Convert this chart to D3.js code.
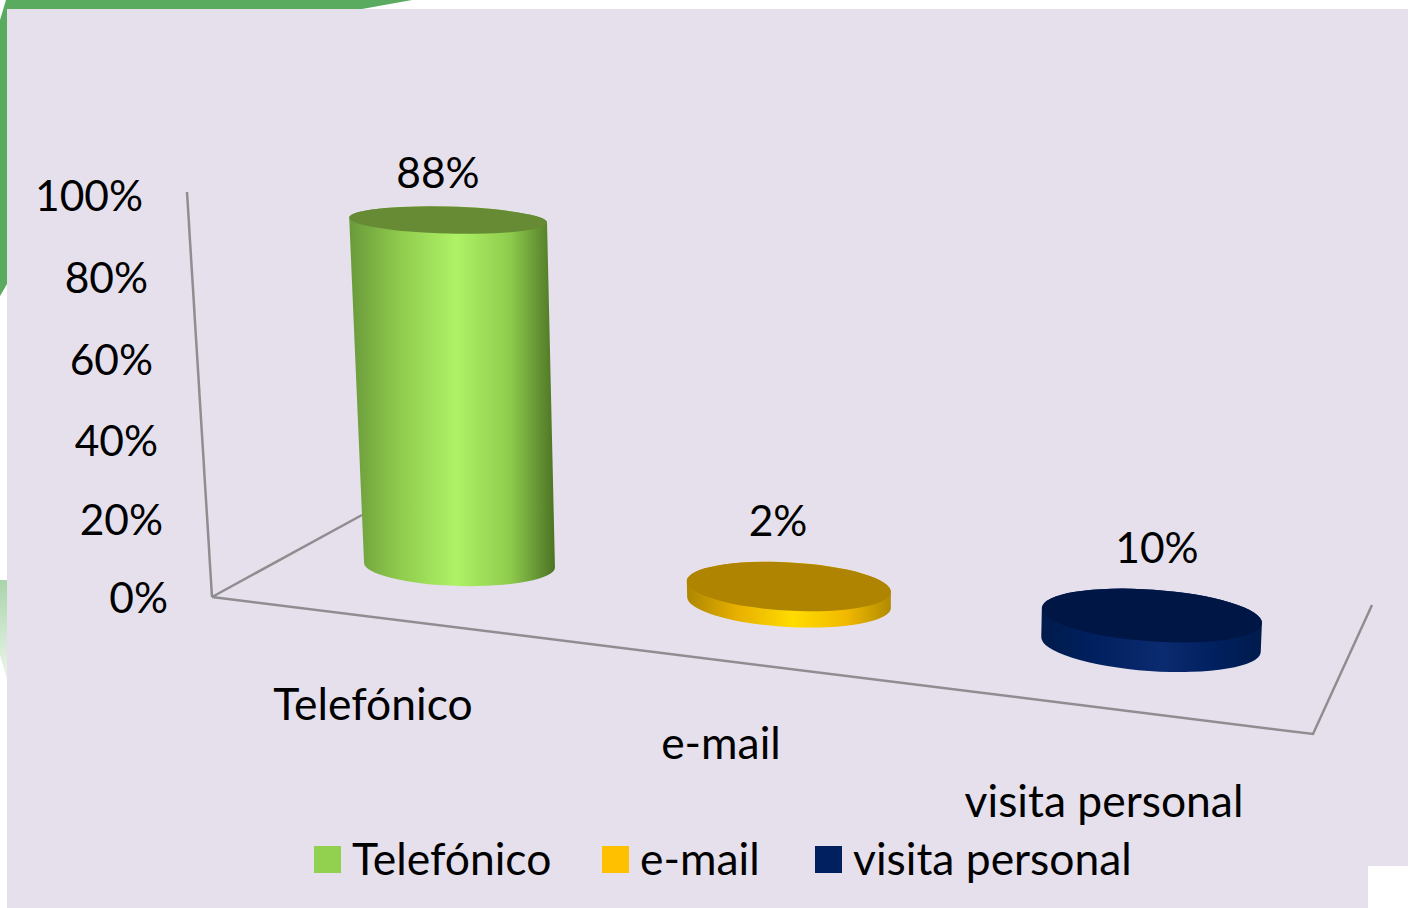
<!DOCTYPE html>
<html><head><meta charset="utf-8">
<script src="https://cdn.jsdelivr.net/npm/d3@7"></script>
<style>html,body{margin:0;padding:0;background:#fff}svg{display:block}text{font-family:Lato,"Open Sans",sans-serif;fill:#000}</style>
</head><body><svg id="c" width="1408" height="908"></svg>
<script>
const categories = ["Telefónico", "e-mail", "visita personal"];
const values = [88, 2, 10];
const valueLabels = ["88%", "2%", "10%"];
const axisTicks = [0, 20, 40, 60, 80, 100];
const legendColors = ["#92d050", "#ffc000", "#002060"];

const svg = d3.select("#c");
const line = d3.line();
const FS_NUM = 42.5, FS_CAT = 44.4;

const defs = svg.append("defs");
const pale = defs.append("linearGradient").attr("id","pale").attr("x1","0").attr("x2","0").attr("y1","0").attr("y2","1");
pale.append("stop").attr("offset","0").attr("stop-color","#a9d4aa");
pale.append("stop").attr("offset","1").attr("stop-color","#eef6ee");

// background scraps
svg.append("path").attr("d","M6,0L412,0L362,9L7,9L7,284L0,296L0,20Z").attr("fill","#5aab60");
svg.append("path").attr("d","M0,580L7,580L7,680L0,655Z").attr("fill","url(#pale)");
svg.append("rect").attr("x",7).attr("y",9).attr("width",1401).attr("height",899).attr("fill","#e5e0ec");
svg.append("rect").attr("x",1368).attr("y",866).attr("width",40).attr("height",42).attr("fill","#fff");

// perspective scales
const idx = d3.scaleOrdinal().domain(categories).range([0,1,2]);
const baseX = d3.scaleLinear().domain([0,1,2]).range([459.5,789,1151]);
const baseY = d3.scaleLinear().domain([0,1,2]).range([565,602.5,644.5]);
const baseRx = d3.scaleLinear().domain([0,1,2]).range([95.5,102,110]);
const baseRy = d3.scaleLinear().domain([0,1,2]).range([21,24.5,26.5]);
const tilt = d3.scaleLinear().domain([0,1,2]).range([1.5,3.2,4]);
const lean = d3.scaleLinear().domain([0,1,2]).range([-0.033,-0.01,0.03]);
const height = d3.scaleLinear().domain([0,2,10,100]).range([0,16,29,393.5]);
const tickY = d3.scaleLinear().domain([0,40,100]).range([598.5,441.5,196.5]);
const tickX = d3.scaleLinear().domain([0,100]).range([168,143]);
const wallX = d3.scaleLinear().domain([0,100]).range([212,187]);
const wallY = d3.scaleLinear().domain([0,100]).range([597,192]);
const floor = {front:[[212,597],[1313,734],[1372,605]], side:[[212,597],[362,515]]};

// walls and floor
const axisG = svg.append("g").attr("fill","none").attr("stroke","#8f8d90").attr("stroke-width",2.5);
axisG.append("path").attr("d",line([[wallX(0),wallY(0)],[wallX(100),wallY(100)]]));
axisG.append("path").attr("d",line(floor.front));
axisG.append("path").attr("d",line(floor.side));

// y tick labels
svg.append("g").selectAll("text").data(axisTicks).join("text")
  .attr("x",d=>tickX(d)).attr("y",d=>tickY(d)).attr("dy","0.35em")
  .attr("text-anchor","end").attr("font-size",FS_NUM).text(d=>d+"%");

// gradients
const grads = [
  [["0","#69993a"],["0.25","#90cc4e"],["0.52","#aef266"],["0.78","#8fcc4d"],["1","#4c7324"]],
  [["0","#ad8700"],["0.25","#e8b000"],["0.52","#ffdc00"],["0.78","#f2b900"],["1","#b08a00"]],
  [["0","#001b4c"],["0.25","#00205f"],["0.55","#0b2b70"],["0.78","#00205f"],["1","#001b4c"]]
];
const tops = ["#678a35","#ae8400","#001645"];
grads.forEach((g,i)=>{
  defs.append("linearGradient").attr("id","g"+i).attr("x1","0").attr("x2","1").attr("y1","0").attr("y2","0")
    .selectAll("stop").data(g).join("stop").attr("offset",d=>d[0]).attr("stop-color",d=>d[1]);
});

// cylinders
const bars = svg.append("g").selectAll("g").data(categories).join("g");
bars.each(function(c,k){
  const i = idx(c), h = height(values[k]);
  const a = tilt(i)*Math.PI/180, ca=Math.cos(a), sa=Math.sin(a);
  const bx=baseX(i), by=baseY(i), brx=baseRx(i), bry=baseRy(i);
  const tx=bx+lean(i)*h, ty=by-h, trx=brx+0.01*h, trY=bry-0.0217*h;
  const deg=tilt(i);
  const g=d3.select(this);
  g.append("path").attr("fill",`url(#g${i})`).attr("d",
    `M${tx-trx*ca},${ty-trx*sa}L${bx-brx*ca},${by-brx*sa}`+
    `A${brx},${bry} ${deg} 0 0 ${bx+brx*ca},${by+brx*sa}`+
    `L${tx+trx*ca},${ty+trx*sa}`+
    `A${trx},${trY} ${deg} 0 0 ${tx-trx*ca},${ty-trx*sa}Z`);
  g.append("ellipse").attr("cx",tx).attr("cy",ty).attr("rx",trx).attr("ry",trY)
    .attr("transform",`rotate(${deg} ${tx} ${ty})`).attr("fill",tops[i]);
});

// value labels
const labelX = d3.scaleLinear().domain([0,1,2]).range([438,778,1157]);
const labelY = d3.scaleLinear().domain([0,1,2]).range([173.5,521.5,548.5]);
svg.append("g").selectAll("text").data(valueLabels).join("text")
  .attr("x",(d,k)=>labelX(k)).attr("y",(d,k)=>labelY(k)).attr("dy","0.35em")
  .attr("text-anchor","middle").attr("font-size",FS_NUM).text(d=>d);

// category labels
const catX = d3.scaleLinear().domain([0,1,2]).range([373,721,1104]);
const catY = d3.scaleLinear().domain([0,1,2]).range([704,743,801]);
svg.append("g").selectAll("text").data(categories).join("text")
  .attr("x",(d,k)=>catX(k)).attr("y",(d,k)=>catY(k)).attr("dy","0.35em")
  .attr("text-anchor","middle").attr("font-size",FS_CAT).text(d=>d);

// legend
const legX = d3.scaleOrdinal().domain(categories).range([314,602,815]);
const legend = svg.append("g").selectAll("g").data(categories).join("g");
legend.append("rect").attr("x",d=>legX(d)).attr("y",846).attr("width",27).attr("height",27)
  .attr("fill",(d,k)=>legendColors[k]);
legend.append("text").attr("x",d=>legX(d)+38).attr("y",859).attr("dy","0.35em")
  .attr("font-size",FS_CAT).text(d=>d);
</script></body></html>
